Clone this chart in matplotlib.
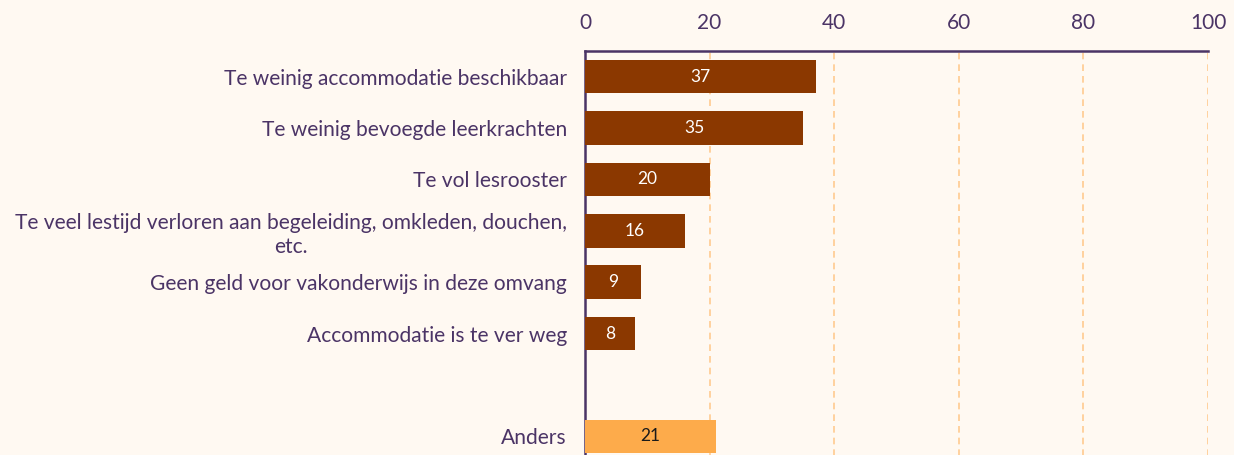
import matplotlib
matplotlib.use("Agg")
import matplotlib.pyplot as plt

categories = [
    "Te weinig accommodatie beschikbaar",
    "Te weinig bevoegde leerkrachten",
    "Te vol lesrooster",
    "Te veel lestijd verloren aan begeleiding, omkleden, douchen,\netc.",
    "Geen geld voor vakonderwijs in deze omvang",
    "Accommodatie is te ver weg",
    "Anders",
]
values = [37, 35, 20, 16, 9, 8, 21]
positions = [0, 1, 2, 3, 4, 5, 7]
xticks = [0, 20, 40, 60, 80, 100]

BG = "#fff9f2"
PURPLE = "#4b3466"
BROWN = "#8b3800"
ORANGE = "#fdab4b"
GRID = "#ffcb90"

plt.rcParams["font.family"] = ["Lato", "DejaVu Sans"]

fig = plt.figure(figsize=(12.34, 4.55), dpi=100, facecolor=BG)
W, H = 1234, 455
x0, x1 = 585, 1208
ytop, ybot = 51, 462
ax = fig.add_axes([x0 / W, 1 - ybot / H, (x1 - x0) / W, (ybot - ytop) / H])
ax.set_facecolor(BG)

colors = [BROWN] * 6 + [ORANGE]
ax.barh(positions, values, height=0.65, color=colors, zorder=3)
for p, v, c in zip(positions, values, colors):
    ax.text(v / 2, p, str(v), ha="center", va="center", fontsize=12.5,
            color="white" if c == BROWN else "#1a1a1a", zorder=4)

ax.set_xlim(0, 100)
ax.set_ylim(7.5, -0.5)
ax.set_xticks(xticks)
ax.xaxis.tick_top()
ax.tick_params(axis="x", length=0, pad=13, labelsize=15, labelcolor=PURPLE)
ax.set_yticks(positions)
ax.set_yticklabels(categories, multialignment="center", linespacing=1.25)
ax.tick_params(axis="y", length=0, pad=13, labelsize=15.1, labelcolor=PURPLE)
ax.grid(axis="x", linestyle=(0, (4, 3)), color=GRID, linewidth=1.2, zorder=0)
for s in ["right", "bottom"]:
    ax.spines[s].set_visible(False)
for s in ["top", "left"]:
    ax.spines[s].set_color(PURPLE)
    ax.spines[s].set_linewidth(1.8)

fig.savefig("out.png", dpi=100, facecolor=BG)
